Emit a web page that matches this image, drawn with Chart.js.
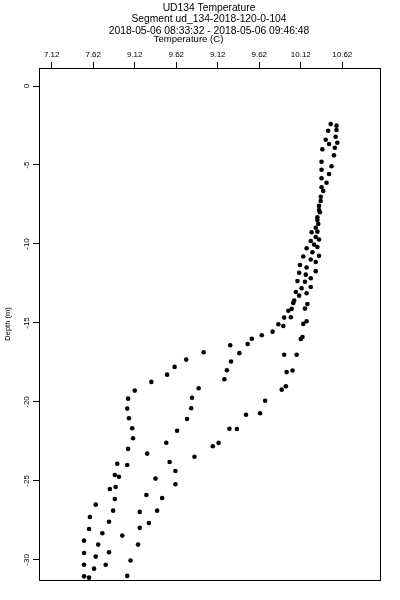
<!DOCTYPE html>
<html><head><meta charset="utf-8">
<script src="https://cdn.jsdelivr.net/npm/chart.js@4.4.1/dist/chart.umd.min.js"></script>
<style>html,body{margin:0;padding:0;background:#fff}#wrap{width:400px;height:600px;position:relative}</style>
</head><body><div id="wrap"><canvas id="c" width="400" height="600"></canvas></div>
<script>
const titleLines = ["UD134 Temperature", "Segment ud_134-2018-120-0-104", "2018-05-06 08:33:32 - 2018-05-06 09:46:48"];
const xAxisTitle = "Temperature (C)";
const yAxisTitle = "Depth (m)";
const xTickValues = [7.12, 7.62, 8.12, 8.62, 9.12, 9.62, 10.12, 10.62];
const xTickLabels = ["7.12", "7.62", "9.12", "9.62", "9.12", "9.62", "10.12", "10.62"];
const yTickValues = [0, -5, -10, -15, -20, -25, -30];
const yTickLabels = ["0", "-5", "-10", "-15", "-20", "-25", "-30"];

const temperature = [
 10.48,10.55,10.45,10.55,10.54,10.42,10.46,10.56,10.53,10.38,
 10.52,10.37,10.49,10.37,10.46,10.37,10.43,10.37,10.39,10.36,
 10.36,10.34,10.34,10.35,10.32,10.32,10.33,10.30,10.32,10.25,
 10.30,10.34,10.24,10.28,10.19,10.32,10.26,10.34,10.15,10.24,
 10.30,10.11,10.19,10.30,10.10,10.18,10.24,10.17,10.08,10.13,
 10.24,10.06,10.10,10.19,10.04,10.03,10.20,10.01,9.97,10.17,
 10.00,9.92,10.15,10.19,9.85,9.91,9.78,9.65,9.53,9.48,
 10.12,10.14,9.27,9.38,9.28,9.23,9.20,9.92,10.07,9.95,
 10.02,9.89,9.94,9.69,9.63,9.46,9.26,9.35,9.13,9.06,
 8.84,8.95,8.74,8.60,8.51,8.32,8.12,8.04,8.03,8.05,
 8.09,8.10,8.04,8.03,8.89,8.81,8.80,8.75,8.63,8.50,
 8.27,8.54,8.61,8.61,8.37,8.45,8.26,8.39,8.18,8.29,
 8.18,8.16,8.07,8.03,7.91,7.88,7.93,7.89,7.82,7.88,
 7.86,7.65,7.81,7.58,7.57,7.73,7.97,7.51,7.68,7.81,
 7.51,7.65,7.77,7.51,7.63,7.51,7.57
];
const depth = [
 -2.41,-2.51,-2.83,-2.78,-3.21,-3.40,-3.67,-3.59,-3.91,-4.01,
 -4.39,-4.79,-5.08,-5.30,-5.57,-5.84,-6.12,-6.41,-6.65,-7.01,
 -7.28,-7.59,-7.85,-7.99,-8.31,-8.48,-8.73,-8.97,-9.22,-9.26,
 -9.56,-9.72,-9.81,-10.04,-10.27,-10.19,-10.52,-10.74,-10.79,-10.98,
 -11.14,-11.33,-11.49,-11.72,-11.82,-11.94,-12.17,-12.39,-12.35,-12.80,
 -12.72,-13.04,-13.27,-13.12,-13.58,-13.73,-13.80,-14.11,-14.23,-14.09,
 -14.64,-14.66,-15.06,-14.89,-15.08,-15.19,-15.55,-15.78,-16.00,-16.33,
 -16.01,-15.89,-16.41,-16.91,-17.44,-17.99,-18.56,-17.01,-17.01,-18.11,
 -18.01,-19.22,-19.01,-19.92,-20.71,-20.81,-21.70,-21.71,-22.59,-22.80,
 -23.47,-16.85,-17.32,-17.78,-18.27,-18.73,-19.28,-19.79,-20.42,-21.03,
 -21.66,-22.30,-22.97,-23.99,-19.13,-19.73,-20.40,-21.08,-21.82,-22.58,
 -23.27,-23.80,-24.37,-25.21,-24.85,-26.08,-25.89,-26.88,-26.96,-27.66,
 -27.97,-29.03,-30.04,-31.01,-23.91,-24.62,-24.73,-25.38,-25.51,-26.14,
 -26.88,-26.50,-27.58,-27.28,-28.04,-28.31,-28.46,-28.78,-29.03,-29.51,
 -29.56,-29.79,-30.30,-30.30,-30.55,-31.04,-31.12
];

const points = temperature.map((t, i) => ({ x: t, y: depth[i] }));
const FONT = '"Liberation Sans", Arial, Helvetica, sans-serif';

const textPlugin = {
  id: 'rtext',
  afterDraw(chart) {
    const ctx = chart.ctx;
    const a = chart.chartArea;
    const xs = chart.scales.x, ys = chart.scales.y;
    ctx.save();
    ctx.strokeStyle = '#000';
    ctx.lineWidth = 1;
    ctx.strokeRect(Math.round(a.left) + 0.5, Math.round(a.top) + 0.5, Math.round(a.right - a.left), Math.round(a.bottom - a.top));
    ctx.fillStyle = '#000';
    ctx.textAlign = 'center';
    ctx.textBaseline = 'alphabetic';
    ctx.font = '10.3px ' + FONT;
    const tBase = [10.5, 22, 33.5];
    titleLines.forEach((s, i) => ctx.fillText(s, 209, tBase[i]));
    ctx.font = '9.6px ' + FONT;
    ctx.fillText(xAxisTitle, 188.5, 42);
    ctx.font = '8px ' + FONT;
    xTickValues.forEach((v, i) => ctx.fillText(xTickLabels[i], xs.getPixelForValue(v), 56.5));
    yTickValues.forEach((v, i) => {
      ctx.save();
      ctx.translate(29, ys.getPixelForValue(v));
      ctx.rotate(-Math.PI / 2);
      ctx.fillText(yTickLabels[i], 0, 0);
      ctx.restore();
    });
    ctx.font = '7.5px ' + FONT;
    ctx.save();
    ctx.translate(9.5, (a.top + a.bottom) / 2);
    ctx.rotate(-Math.PI / 2);
    ctx.fillText(yAxisTitle, 0, 0);
    ctx.restore();
    ctx.restore();
  }
};

new Chart(document.getElementById('c'), {
  type: 'scatter',
  data: { datasets: [{ data: points, backgroundColor: '#000', borderColor: '#000', borderWidth: 0, pointRadius: 2.3, pointHoverRadius: 2.3 }] },
  options: {
    responsive: false,
    animation: false,
    devicePixelRatio: 1,
    events: [],
    layout: { padding: { top: 62, left: 33, right: 20, bottom: 20 } },
    plugins: { legend: { display: false }, tooltip: { enabled: false }, title: { display: false } },
    scales: {
      x: {
        type: 'linear', position: 'top', min: 6.967, max: 11.074,
        afterBuildTicks: s => { s.ticks = xTickValues.map(v => ({ value: v })); },
        afterFit: s => { s.height = 6; },
        ticks: { display: false },
        grid: { drawOnChartArea: false, drawTicks: true, tickLength: 6, color: '#000', lineWidth: 1 },
        border: { display: true, color: '#000', width: 1 }
      },
      y: {
        type: 'linear', position: 'left', min: -31.27, max: 1.14,
        afterBuildTicks: s => { s.ticks = yTickValues.map(v => ({ value: v })); },
        afterFit: s => { s.width = 6; },
        ticks: { display: false },
        grid: { drawOnChartArea: false, drawTicks: true, tickLength: 6, color: '#000', lineWidth: 1 },
        border: { display: true, color: '#000', width: 1 }
      }
    }
  },
  plugins: [textPlugin]
});
</script>
</body></html>
